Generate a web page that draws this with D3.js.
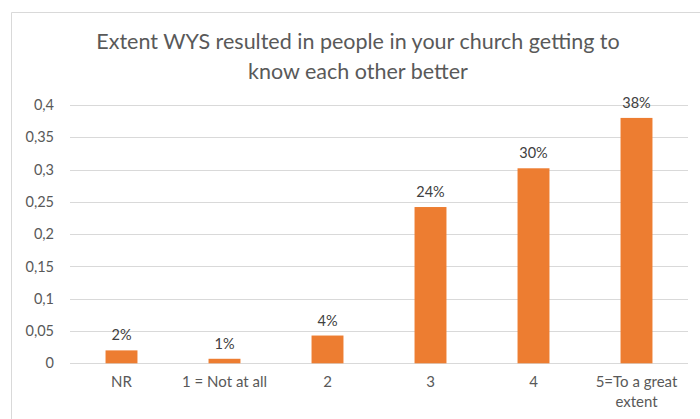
<!DOCTYPE html>
<html>
<head>
<meta charset="utf-8">
<script src="https://cdn.jsdelivr.net/npm/d3@7"></script>
<style>
  html, body { margin: 0; padding: 0; background: #fff; }
  svg { display: block; font-family: Lato, "Open Sans", sans-serif; }
</style>
</head>
<body>
<svg id="chart" width="700" height="419"></svg>
<script>
// Survey responses: share of churches per answer
const categories = ["NR", "1 = Not at all", "2", "3", "4", "5=To a great extent"];
const values = [0.02, 0.007, 0.043, 0.242, 0.302, 0.38];
const valueLabels = ["2%", "1%", "4%", "24%", "30%", "38%"];
const yTicks = [0, 0.05, 0.1, 0.15, 0.2, 0.25, 0.3, 0.35, 0.4];
const yTickLabels = ["0", "0,05", "0,1", "0,15", "0,2", "0,25", "0,3", "0,35", "0,4"];
const titleLines = ["Extent WYS resulted in people in your church getting to", "know each other better"];

const svg = d3.select("#chart");
const margin = { left: 70, right: 12, top: 105, bottom: 56 };
const W = 700, H = 419;

// chart frame (left and top edges visible)
svg.append("path")
  .attr("d", "M11.5,419 V12.5 H700")
  .attr("fill", "none")
  .attr("stroke", "#d9d9d9")
  .attr("stroke-width", 1);

const x = d3.scaleBand()
  .domain(categories)
  .range([margin.left, W - margin.right])
  .paddingInner(0.69)
  .paddingOuter(0.345);

const y = d3.scaleLinear()
  .domain([0, 0.4])
  .range([363.3, 105]);

// gridlines
svg.append("g")
  .selectAll("line")
  .data(yTicks)
  .join("line")
  .attr("x1", margin.left)
  .attr("x2", W - margin.right)
  .attr("y1", d => Math.round(y(d)) + 0.5)
  .attr("y2", d => Math.round(y(d)) + 0.5)
  .attr("stroke", "#d9d9d9")
  .attr("stroke-width", 1);

// y axis labels
const yAxis = d3.axisLeft(y)
  .tickValues(yTicks)
  .tickFormat((d, i) => yTickLabels[i])
  .tickSize(0)
  .tickPadding(0);
const yg = svg.append("g")
  .attr("transform", "translate(54,0)")
  .call(yAxis);
yg.select(".domain").remove();
yg.selectAll("text")
  .attr("fill", "#595959")
  .attr("font-size", 14.5)
  .attr("font-family", "Lato, sans-serif");

// bars
svg.append("g")
  .selectAll("rect")
  .data(values)
  .join("rect")
  .attr("x", (d, i) => x(categories[i]))
  .attr("width", x.bandwidth())
  .attr("y", d => y(d))
  .attr("height", d => y(0) - y(d))
  .attr("fill", "#ED7D31");

// value labels
svg.append("g")
  .selectAll("text")
  .data(values)
  .join("text")
  .attr("x", (d, i) => x(categories[i]) + x.bandwidth() / 2)
  .attr("y", d => y(d) - 10)
  .attr("text-anchor", "middle")
  .attr("fill", "#404040")
  .attr("font-size", 14.5)
  .text((d, i) => valueLabels[i]);

// x axis labels (wrapped)
const xAxis = d3.axisBottom(x).tickSize(0).tickPadding(0);
const xg = svg.append("g")
  .attr("transform", "translate(0,376)")
  .call(xAxis);
xg.select(".domain").remove();
xg.selectAll("text")
  .attr("fill", "#595959")
  .attr("font-size", 15)
  .attr("font-family", "Lato, sans-serif")
  .each(function(d) {
    const t = d3.select(this);
    const lines = d === "5=To a great extent" ? ["5=To a great", "extent"] : [d];
    t.text(null);
    lines.forEach((ln, i) => {
      t.append("tspan")
        .attr("x", 0)
        .attr("dy", i === 0 ? "0.71em" : "1.35em")
        .text(ln);
    });
  });

// title
svg.append("text")
  .attr("x", 358)
  .attr("y", 49)
  .attr("text-anchor", "middle")
  .attr("fill", "#595959")
  .attr("font-size", 21.5)
  .selectAll("tspan")
  .data(titleLines)
  .join("tspan")
  .attr("x", 358)
  .attr("dy", (d, i) => i === 0 ? 0 : 30)
  .text(d => d);
</script>
</body>
</html>
